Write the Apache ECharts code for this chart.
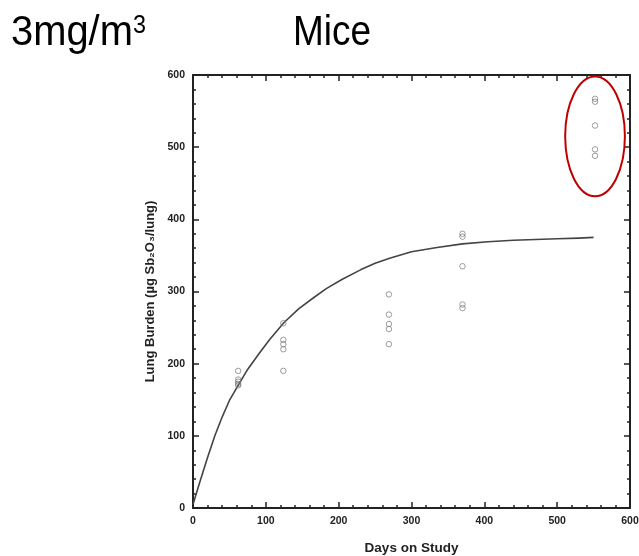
<!DOCTYPE html>
<html>
<head>
<meta charset="utf-8">
<script src="https://cdn.jsdelivr.net/npm/echarts@6/dist/echarts.min.js"></script>
<style>html,body{margin:0;padding:0;background:#fff;}#c{width:639px;height:556px;}</style>
</head>
<body>
<div id="c"></div>
<script>
// Observed lung burden points (day, µg)
const day62 = [62, [190, 178, 175, 172, 170]];
const day125 = [124, [256, 233, 227, 220, 190]];
const day270 = [269, [296, 268, 255, 248, 227]];
const day370 = [370, [380, 376, 335, 282, 277]];
const day552 = [552, [567, 563, 530, 497, 488]];
// Fitted curve, values
const curveDays = [0, 10, 20, 30, 40, 50, 62, 75, 90, 105, 125, 145, 165, 183, 205, 230, 250, 270, 300, 335, 370, 405, 440, 470, 500, 530, 550];
const curveVals = [5, 38, 70, 100, 126, 149, 170, 192, 213, 233, 257, 276, 291, 304, 317, 330, 339, 346, 355, 361, 366, 369, 371, 372, 373, 374, 375];
const xTicks = [0, 100, 200, 300, 400, 500, 600];
const yTicks = [0, 100, 200, 300, 400, 500, 600];
// annotated ellipse (data units)
const ellipse = {cx: 552, cy: 515, rx: 41, ry: 83};

const groups = [day62, day125, day270, day370, day552];
const points = [];
groups.forEach(g => g[1].forEach(v => points.push([g[0], v])));
const curve = curveDays.map((d, i) => [d, curveVals[i]]);

const chart = echarts.init(document.getElementById('c'));
const FF = 'Liberation Sans, Arial, sans-serif';
const axisFont = {fontFamily: FF, fontWeight: 'bold', fontSize: 10.5, color: '#222'};
function mkX(pos, showLabel, name) {
  return {
    type: 'value', min: 0, max: 600, interval: 100, position: pos,
    name: name || '', nameLocation: 'middle', nameGap: 33,
    nameTextStyle: {fontFamily: FF, fontWeight: 'bold', fontSize: 13.5, color: '#222'},
    axisLine: {show: true, onZero: false, lineStyle: {color: '#222', width: 2}},
    axisTick: {show: true, inside: true, length: 6, lineStyle: {color: '#222', width: 1.5}},
    minorTick: {show: true, splitNumber: 5, length: 3, lineStyle: {color: '#222', width: 1.5}},
    splitLine: {show: false},
    axisLabel: Object.assign({show: showLabel, margin: 8, formatter: v => xTicks.includes(v) ? String(v) : ''}, axisFont)
  };
}
function mkY(pos, showLabel, name) {
  return {
    type: 'value', min: 0, max: 600, interval: 100, position: pos,
    name: name || '', nameLocation: 'middle', nameGap: 35, nameRotate: 90,
    nameTextStyle: {fontFamily: FF, fontWeight: 'bold', fontSize: 13, color: '#222'},
    axisLine: {show: true, onZero: false, lineStyle: {color: '#222', width: 2}},
    axisTick: {show: true, inside: true, length: 6, lineStyle: {color: '#222', width: 1.5}},
    minorTick: {show: true, splitNumber: 5, length: 3, lineStyle: {color: '#222', width: 1.5}},
    splitLine: {show: false},
    axisLabel: Object.assign({show: showLabel, margin: 8, formatter: v => yTicks.includes(v) ? String(v) : ''}, axisFont)
  };
}
chart.setOption({
  animation: false,
  backgroundColor: '#fff',
  grid: {left: 193, right: 9, top: 75, bottom: 48, outerBoundsMode: 'none', containLabel: false},
  xAxis: [mkX('bottom', true, 'Days on Study'), mkX('top', false)],
  yAxis: [mkY('left', true, 'Lung Burden (µg Sb₂O₃/lung)'), mkY('right', false)],
  series: [
    {type: 'line', data: curve, smooth: false, showSymbol: false, symbol: 'none',
     lineStyle: {color: '#444', width: 1.6, join: 'round'}, z: 2},
    {type: 'scatter', data: points, symbol: 'circle', symbolSize: 5.5,
     itemStyle: {color: 'rgba(255,255,255,0)', borderColor: '#777', borderWidth: 0.9}, z: 3}
  ]
});
const c = chart.convertToPixel({xAxisIndex: 0, yAxisIndex: 0}, [ellipse.cx, ellipse.cy]);
const e1 = chart.convertToPixel({xAxisIndex: 0, yAxisIndex: 0}, [ellipse.cx + ellipse.rx, ellipse.cy + ellipse.ry]);
chart.setOption({
  graphic: [
    {type: 'ellipse', shape: {cx: c[0], cy: c[1], rx: Math.abs(e1[0] - c[0]), ry: Math.abs(e1[1] - c[1])},
     style: {fill: 'none', stroke: '#c00000', lineWidth: 2}, z: 10},
    {type: 'text', x: 11, y: 33, scaleX: 0.95,
     style: {text: '3mg/m', font: '42px "Liberation Sans", Arial, sans-serif', fill: '#000', verticalAlign: 'middle', align: 'left'}},
    {type: 'text', x: 133, y: 26, scaleX: 0.9,
     style: {text: '3', font: '26px "Liberation Sans", Arial, sans-serif', fill: '#000', verticalAlign: 'middle', align: 'left'}},
    {type: 'text', x: 332, y: 33, scaleX: 0.88,
     style: {text: 'Mice', font: '42px "Liberation Sans", Arial, sans-serif', fill: '#000', verticalAlign: 'middle', align: 'center'}}
  ]
});
</script>
</body>
</html>
